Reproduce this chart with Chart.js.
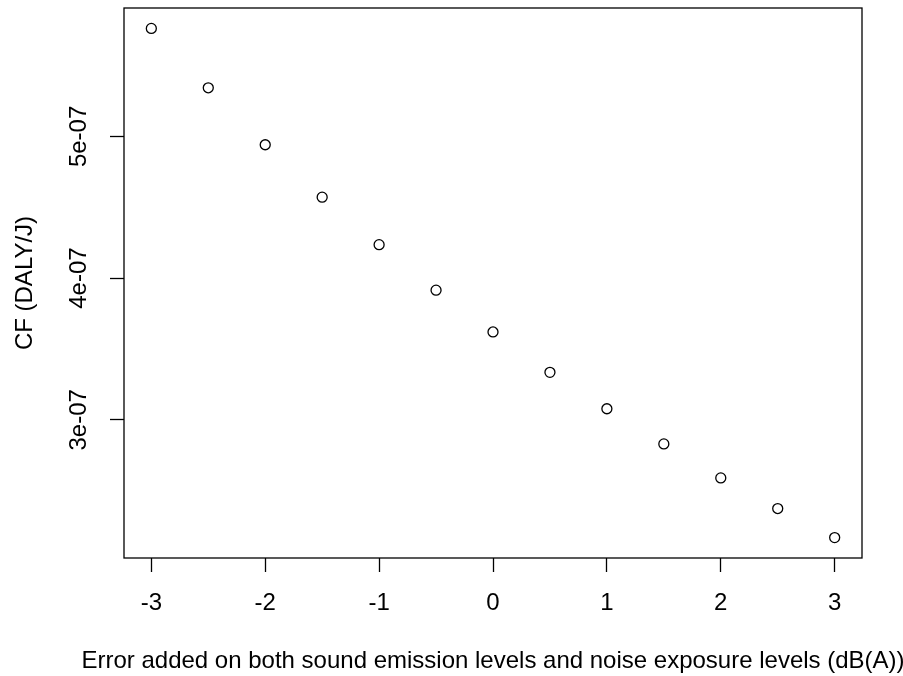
<!DOCTYPE html>
<html>
<head>
<meta charset="utf-8">
<script src="https://cdn.jsdelivr.net/npm/chart.js@4/dist/chart.umd.min.js"></script>
<style>
  html, body { margin: 0; padding: 0; background: #fff; }
  #wrap { width: 903px; height: 676px; }
</style>
</head>
<body>
<div id="wrap"><canvas id="cf" width="903" height="676"></canvas></div>
<script>
// error added (dB(A)) and the resulting characterisation factor
const errorDb = [-3, -2.5, -2, -1.5, -1, -0.5, 0, 0.5, 1, 1.5, 2, 2.5, 3];
const cfValues = [
  5.762e-7, 5.343e-7, 4.941e-7, 4.571e-7, 4.236e-7, 3.915e-7, 3.620e-7,
  3.335e-7, 3.078e-7, 2.830e-7, 2.590e-7, 2.374e-7, 2.169e-7
];
const xTicks = [-3, -2, -1, 0, 1, 2, 3];
const yTicks = [3e-7, 4e-7, 5e-7];
const yTickLabels = ["3e-07", "4e-07", "5e-07"];
const xTitle = "Error added on both sound emission levels and noise exposure levels (dB(A))";

const FONT = "'Liberation Sans', Arial, sans-serif";
const FSIZE = 24;

// R style box around the plot region + x title (chart.js squeezes it to the axis width)
const boxPlugin = {
  id: "box",
  afterDraw(chart) {
    const { ctx, chartArea: a } = chart;
    ctx.save();
    ctx.strokeStyle = "#000";
    ctx.lineWidth = 1.3;
    ctx.strokeRect(a.left, a.top, a.right - a.left, a.bottom - a.top);
    ctx.fillStyle = "#000";
    ctx.font = FSIZE + "px " + FONT;
    ctx.textAlign = "center";
    ctx.textBaseline = "middle";
    ctx.fillText(xTitle, (a.left + a.right) / 2, chart.height - 15);
    ctx.restore();
  }
};

const points = errorDb.map((x, i) => ({ x: x, y: cfValues[i] }));

new Chart(document.getElementById("cf"), {
  type: "scatter",
  data: {
    datasets: [{
      data: points,
      pointRadius: 5,
      pointHoverRadius: 5,
      pointBorderWidth: 1.3,
      pointBorderColor: "#000",
      pointBackgroundColor: "rgba(0,0,0,0)"
    }]
  },
  options: {
    responsive: false,
    devicePixelRatio: 1,
    animation: false,
    layout: { padding: { left: 0, top: 8, right: 41, bottom: 0 } },
    plugins: { legend: { display: false }, tooltip: { enabled: false } },
    scales: {
      x: {
        type: "linear",
        min: -3.24,
        max: 3.24,
        afterBuildTicks: (s) => { s.ticks = xTicks.map(v => ({ value: v })); },
        afterFit: (s) => { s.height = 118; s.paddingLeft = 0; s.paddingRight = 0; },
        grid: { drawOnChartArea: false, drawTicks: true, tickLength: 14, tickColor: "#000", tickWidth: 1.3 },
        border: { display: false },
        ticks: {
          color: "#000",
          font: { family: FONT, size: FSIZE },
          padding: 17,
          maxRotation: 0,
          minRotation: 0,
          callback: (v) => String(v)
        },
        title: { display: false }
      },
      y: {
        type: "linear",
        min: 2.025e-7,
        max: 5.906e-7,
        afterBuildTicks: (s) => { s.ticks = yTicks.map(v => ({ value: v })); },
        afterFit: (s) => { s.width = 124; s.paddingTop = 0; s.paddingBottom = 0; },
        grid: { drawOnChartArea: false, drawTicks: true, tickLength: 14, tickColor: "#000", tickWidth: 1.3 },
        border: { display: false },
        ticks: {
          color: "#000",
          font: { family: FONT, size: FSIZE },
          padding: 0,
          minRotation: 90,
          maxRotation: 90,
          crossAlign: "center",
          callback: (v) => {
            const i = yTicks.findIndex(t => Math.abs(t - v) < 1e-12);
            return i >= 0 ? yTickLabels[i] : "";
          }
        },
        title: {
          display: true,
          text: "CF (DALY/J)",
          color: "#000",
          font: { family: FONT, size: FSIZE },
          padding: { top: 11, bottom: 0 }
        }
      }
    }
  },
  plugins: [boxPlugin]
});
</script>
</body>
</html>
